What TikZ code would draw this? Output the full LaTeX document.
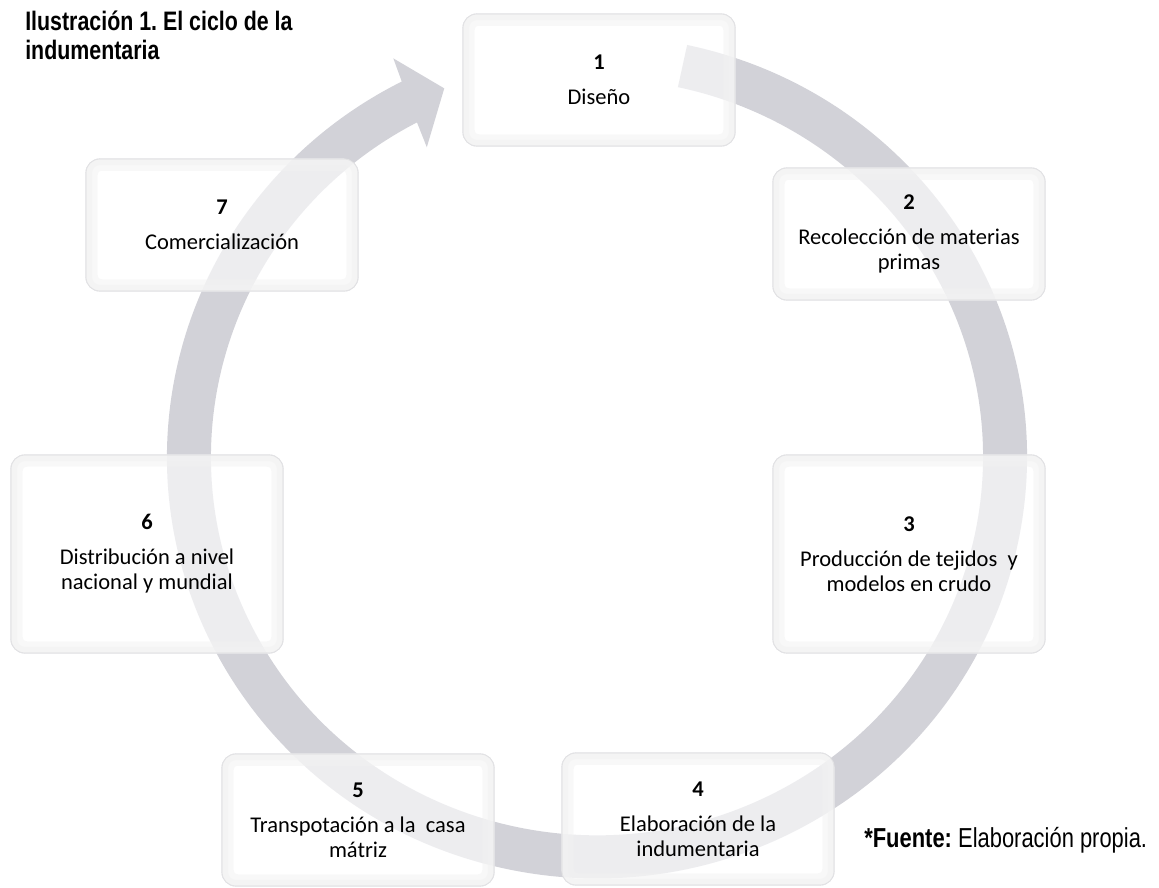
\documentclass[tikz,border=0pt]{standalone}
\usepackage{fontspec}
\setmainfont{Carlito}
\newfontfamily\narrowfont{Liberation Sans}[FakeStretch=0.8]
\definecolor{ringgray}{RGB}{210,210,216}
\definecolor{boxline}{RGB}{210,210,215}
\frenchspacing

\begin{document}
\begin{tikzpicture}[x=0.025cm,y=-0.025cm,
  stage/.style={draw=boxline,line width=0.8pt,fill=white,fill opacity=0.6,text opacity=1,
    rounded corners=0.35cm,minimum width=6.8cm,minimum height=3.3cm,align=center,
    font=\fontsize{16}{17.8}\selectfont},
  tall/.style={minimum height=4.95cm},
  bevel/.style={draw=black!5,rounded corners=0.25cm,opacity=0.5}]
\useasboundingbox (0,0) rectangle (1159,888);

% ring arrow
\begin{scope}[shift={(597,457)},yscale=0.98]
\fill[ringgray] (-77.9:430) arc[start angle=-77.9,end angle=243,radius=430]
  -- (243.4:455) -- (247.9:406) -- (241.7:359) -- (242.2:386)
  arc[start angle=242.2,end angle=-77.9,radius=386] -- cycle;
\end{scope}

% stages
\node[stage] (s1) at (599,80) {\textbf{1}\\[7pt]Diseño};
\node[stage] (s2) at (909,234) {\textbf{2}\\[7pt]Recolección de materias\\primas};
\node[stage,tall] (s3) at (909,554) {\textbf{3}\\[7pt]Producción de tejidos~ y\\modelos en crudo};
\node[stage] (s4) at (698,819) {\textbf{4}\\[7pt]Elaboración de la\\indumentaria};
\node[stage] (s5) at (358,820) {\textbf{5}\\[7pt]Transpotación a la~ casa\\mátriz};
\node[stage,tall] (s6) at (147,554) {\textbf{6}\\[7pt]Distribución a nivel\\nacional y mundial};
\node[stage] (s7) at (222,225) {\textbf{7}\\[7pt]Comercialización};
\foreach \n in {1,...,7}{
  \draw[bevel,line width=9pt] ([shift={(6,6)}]s\n.north west) rectangle ([shift={(-6,-6)}]s\n.south east);
  \draw[bevel,line width=4pt] ([shift={(4,4)}]s\n.north west) rectangle ([shift={(-4,-4)}]s\n.south east);
}

% captions
\node[anchor=north west,inner sep=0,align=left,font=\narrowfont\bfseries\fontsize{19}{20.5}\selectfont]
  (title) at (25,11) {Ilustración 1. El ciclo de la\\indumentaria};
\node[anchor=base west,inner sep=0,font=\narrowfont\fontsize{19.5}{21}\selectfont]
  (source) at (864,847) {\textbf{*Fuente:} Elaboración propia.};
\end{tikzpicture}
\end{document}
